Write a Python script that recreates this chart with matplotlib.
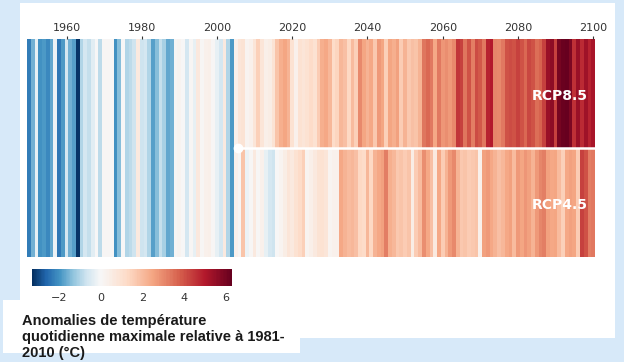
"""Warming stripes: historical record then RCP8.5 / RCP4.5 projections."""
import matplotlib
matplotlib.use("Agg")
import matplotlib.pyplot as plt
import numpy as np
from matplotlib.colors import ListedColormap, Normalize
from matplotlib.patches import Rectangle

# anomalies (°C) of daily max temperature relative to 1981-2010
hist_years = list(range(1950, 2006))
hist_vals = [
    -2.3, -1.6, -0.3, -2.0, -1.9, -2.1, -1.7, -0.2, -2.4, -1.9,
    -0.6, -1.6, -1.8, -3.2, -1.0, -0.6, -0.8, -0.4, 0.0, -0.9,
    0.1, 0.1, 0.0, -2.0, -1.4, 0.0, -1.0, -0.9, -0.7, 0.6,
    -0.7, -0.6, -1.0, -1.8, -1.4, -0.8, -1.1, -1.7, -1.6, 0.1,
    0.2, 0.0, -0.6, 0.1, -0.3, 0.7, 0.1, 0.3, 0.4, 0.1,
    -0.3, -0.6, 0.6, -1.0, -1.9, 0.3,
]
proj_years = list(range(2006, 2101))
rcp85_vals = [
    0.8, 0.9, 0.2, 0.3, 0.8, 1.5, 0.8, 0.4, 0.5, 0.9,
    1.8, 2.3, 2.5, 2.2, 1.0, 0.3, 1.0, 0.8, 1.0, 1.2,
    1.0, 1.6, 2.3, 2.4, 2.1, 1.2, 1.4, 2.1, 1.9, 1.3,
    2.0, 1.5, 3.0, 2.5, 2.2, 2.4, 1.7, 2.7, 2.5, 1.5,
    2.5, 2.3, 2.6, 1.6, 2.2, 1.7, 1.9, 1.8, 2.2, 3.4,
    3.6, 3.3, 2.4, 3.3, 2.8, 2.9, 2.7, 3.0, 4.5, 4.3,
    3.4, 4.0, 3.2, 4.1, 3.9, 3.3, 4.8, 5.0, 3.1, 3.0,
    3.3, 4.0, 4.1, 4.0, 4.3, 4.0, 3.6, 4.2, 4.0, 3.5,
    3.7, 4.3, 5.4, 5.6, 4.3, 6.0, 6.2, 6.3, 5.9, 4.6,
    5.4, 4.7, 5.3, 4.8, 5.2,
]
rcp45_vals = [
    0.1, 1.8, -0.2, 0.1, 0.6, 0.1, 0.3, -0.3, -0.6, -0.7,
    0.0, 0.2, 0.5, 0.8, 0.6, 1.0, 1.2, 1.5, 0.2, 0.4,
    0.6, 0.9, 1.0, 0.8, 0.2, 0.3, 0.3, 2.4, 2.2, 2.0,
    2.1, 1.9, 1.3, 1.2, 2.1, 1.3, 2.2, 2.4, 2.6, 3.2,
    2.3, 2.1, 1.7, 1.8, 1.6, 1.8, 0.5, 1.6, 2.0, 2.9,
    2.4, 1.9, 0.6, 2.4, 1.6, 2.2, 2.7, 3.0, 2.2, 1.7,
    1.8, 1.6, 1.7, 1.8, 0.3, 2.6, 2.7, 2.4, 2.2, 1.9,
    2.1, 2.4, 2.6, 2.0, 2.7, 2.5, 2.8, 2.6, 2.2, 2.7,
    3.1, 3.2, 2.6, 2.4, 2.5, 2.0, 1.5, 2.4, 2.6, 2.5,
    1.6, 4.3, 4.0, 3.2, 3.3,
]
scenarios = ["RCP8.5", "RCP4.5"]
year_ticks = [1960, 1980, 2000, 2020, 2040, 2060, 2080, 2100]
cbar_ticks = [-2, 0, 2, 4, 6]
vmin, vmax = -3.3, 6.3
cbar_label = "Anomalies de température\nquotidienne maximale relative à 1981-\n2010 (°C)"

# RdBu_r squeezed so that white sits at 0 on a linear scale
base = plt.get_cmap("RdBu_r")
n_neg = int(round(256 * -vmin / (vmax - vmin)))
cmap = ListedColormap(np.vstack([base(np.linspace(0, 0.5, n_neg)),
                                 base(np.linspace(0.5, 1, 256 - n_neg))]))
norm = Normalize(vmin=vmin, vmax=vmax)

fig = plt.figure(figsize=(6.24, 3.62), dpi=100, facecolor="#d7e9f9")
fig.patches.append(Rectangle((0.032, 0.066), 0.954, 0.926, transform=fig.transFigure,
                             facecolor="white", edgecolor="none", zorder=-2))

ax = fig.add_axes([0.0433, 0.29, 0.9103, 0.6023])
ax.set_facecolor("none")
ax.bar(hist_years, 2, width=1, bottom=0, color=cmap(norm(hist_vals)), linewidth=0)
ax.bar(proj_years, 1, width=1, bottom=1, color=cmap(norm(rcp85_vals)), linewidth=0)
ax.bar(proj_years, 1, width=1, bottom=0, color=cmap(norm(rcp45_vals)), linewidth=0)
ax.plot([hist_years[-1] + 0.5, proj_years[-1] + 0.5], [1, 1], color="white", lw=1.8)
ax.plot([hist_years[-1] + 0.5], [1], "o", color="white", ms=6)
for name, yc in zip(scenarios, [1.5, 0.5]):
    ax.text(0.988, yc - 0.02, name, transform=ax.get_yaxis_transform(), ha="right",
            va="center", color="white", fontsize=10, fontweight="bold")

ax.set_xlim(hist_years[0] - 0.5, proj_years[-1] + 0.5)
ax.set_ylim(0, 2)
ax.xaxis.tick_top()
ax.set_xticks(year_ticks)
ax.tick_params(axis="x", length=2.5, width=0.8, pad=2, labelsize=8,
               colors="#333333")
ax.set_yticks([])
for s in ax.spines.values():
    s.set_visible(False)

cax = fig.add_axes([0.0513, 0.21, 0.3205, 0.047])
sm = plt.cm.ScalarMappable(norm=norm, cmap=cmap)
cb = fig.colorbar(sm, cax=cax, orientation="horizontal", ticks=cbar_ticks)
cb.outline.set_visible(False)
cax.tick_params(length=0, pad=5, labelsize=8, colors="#333333")

fig.patches.append(Rectangle((0.005, 0.025), 0.476, 0.146, transform=fig.transFigure,
                             facecolor="white", edgecolor="none", zorder=-1))
fig.text(0.035, 0.133, cbar_label, ha="left", va="top", fontsize=10.5,
         family="Liberation Sans", fontweight="bold",
         color="#1a1a1a", linespacing=1.2)

fig.savefig("out.png", dpi=100, facecolor=fig.get_facecolor())
